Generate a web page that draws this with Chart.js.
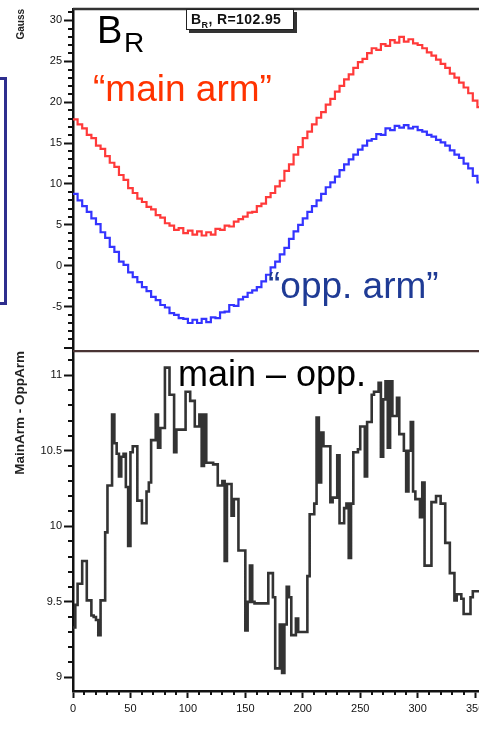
<!DOCTYPE html>
<html>
<head>
<meta charset="utf-8">
<script src="https://cdn.jsdelivr.net/npm/chart.js@4"></script>
<style>
html, body { margin: 0; padding: 0; background: #fff; overflow: hidden; width: 479px; height: 730px; }
#wrap { position: relative; width: 479px; height: 730px; overflow: hidden; }
canvas { position: absolute; left: 0; }
#topChart { top: 0; }
#bottomChart { top: 350px; }
.lbl { position: absolute; z-index: 5; font-family: 'Liberation Sans', Arial, sans-serif; line-height: 1; white-space: nowrap; }
#statbox { position: absolute; z-index: 5; left: 186px; top: 9px; width: 102px; height: 19px; padding-left: 4px;
  border: 1.5px solid #222; box-shadow: 3px 3px 0 #333; background: #fff;
  font: bold 14px 'Liberation Sans', Arial, sans-serif; letter-spacing: 0.4px; line-height: 19px; color: #111; white-space: nowrap; }
#statbox sub { font-size: 9px; line-height: 0; }
#sidebox { position: absolute; z-index: 5; left: -20px; top: 77px; width: 21px; height: 222px; border: 3px solid #2e2e8e; }
</style>
</head>
<body>
<div id="wrap">
  <canvas id="topChart" width="482" height="350"></canvas>
  <canvas id="bottomChart" width="482" height="380"></canvas>

  <div id="sidebox"></div>
  <div id="statbox">B<sub>R</sub>, R=102.95</div>
  <div class="lbl" style="left:97px; top:11px; font-size:38px; color:#000;">B</div>
  <div class="lbl" style="left:124px; top:29px; font-size:28px; color:#000;">R</div>
  <div class="lbl" style="left:93px; top:70px; font-size:37px; color:#ff3300;">“main arm”</div>
  <div class="lbl" style="left:268px; top:267px; font-size:37px; color:#1f3b95;">“opp. arm”</div>
  <div class="lbl" style="left:178px; top:356px; font-size:36px; color:#000;">main – opp.</div>
</div>

<script>
// Axis ticks
const xTicks = [0, 50, 100, 150, 200, 250, 300, 350];
const gaussTicks = [-5, 0, 5, 10, 15, 20, 25, 30];
const diffTicks = [9, 9.5, 10, 10.5, 11];

// Top panel: B_R per arm, bins of 4 units starting at 0
const topBinWidth = 4;
const mainArm = [
    17.9, 17.3, 16.8, 16.0, 15.6, 14.7, 14.3, 13.4, 12.6, 12.1,
    11.1, 10.5, 9.5, 8.9, 8.2, 7.8, 7.2, 6.9, 6.2, 5.9,
    5.2, 4.9, 4.4, 4.6, 4.0, 4.3, 3.8, 4.2, 3.7, 4.1,
    3.8, 4.5, 4.4, 4.9, 4.8, 5.4, 5.7, 6.0, 6.5, 6.6,
    7.3, 7.6, 8.4, 8.9, 9.7, 10.4, 11.6, 12.4, 13.6, 14.5,
    15.6, 16.4, 17.3, 18.1, 18.8, 19.7, 20.4, 21.3, 22.0, 22.8,
    23.4, 24.2, 24.9, 25.3, 26.0, 26.6, 26.4, 27.1, 26.9, 27.6,
    27.3, 28.0, 27.4, 27.7, 27.2, 27.0, 26.6, 26.1, 25.7, 25.2,
    24.7, 24.2, 23.5, 23.0, 22.4, 21.8, 21.1, 20.2, 19.4, 19.2
];
const oppArm = [
    8.8, 8.0, 7.3, 6.6, 5.8, 5.1, 4.1, 3.4, 2.3, 1.7,
    0.5, 0.1, -0.8, -1.4, -2.0, -2.6, -3.1, -3.8, -4.2, -4.8,
    -5.1, -5.8, -6.0, -6.4, -6.5, -7.0, -6.6, -7.0, -6.5, -6.9,
    -6.3, -6.4, -5.7, -5.6, -4.8, -4.9, -4.1, -3.8, -3.3, -3.0,
    -2.6, -1.9, -1.1, -0.2, 0.5, 1.4, 2.2, 3.3, 4.2, 5.0,
    5.8, 6.6, 7.3, 8.0, 8.8, 9.6, 10.2, 10.9, 11.7, 12.4,
    13.0, 13.6, 14.2, 14.7, 15.3, 15.5, 16.1, 16.0, 16.8, 16.6,
    17.1, 16.9, 17.2, 16.8, 17.0, 16.6, 16.4, 16.0, 15.8, 15.4,
    15.1, 14.7, 14.1, 13.6, 13.2, 12.5, 11.9, 11.0, 10.2, 9.8
];

// Bottom panel: MainArm - OppArm, bins of 2 units starting at 0
const diffBinWidth = 2;
const mainMinusOpp = [
    9.33, 9.48, 9.62, 9.62, 9.77, 9.77, 9.51, 9.51, 9.41, 9.40,
    9.38, 9.28, 9.51, 9.51, 9.96, 10.27, 10.27, 10.74, 10.55, 10.48,
    10.33, 10.46, 10.48, 10.26, 9.87, 10.49, 10.53, 10.53, 10.17, 10.17,
    10.02, 10.02, 10.23, 10.29, 10.57, 10.57, 10.74, 10.52, 10.65, 10.65,
    11.05, 11.05, 10.87, 10.87, 10.49, 10.64, 10.64, 10.64, 10.64, 10.89,
    10.89, 10.83, 10.83, 10.66, 10.66, 10.74, 10.40, 10.74, 10.42, 10.42,
    10.42, 10.41, 10.41, 10.27, 10.27, 10.30, 9.77, 10.28, 10.28, 10.07,
    10.18, 10.18, 9.84, 9.84, 9.84, 9.31, 9.50, 9.74, 9.50, 9.49,
    9.49, 9.49, 9.49, 9.49, 9.49, 9.69, 9.69, 9.53, 9.06, 9.06,
    9.35, 9.03, 9.35, 9.60, 9.53, 9.28, 9.28, 9.39, 9.30, 9.30,
    9.30, 9.30, 9.67, 10.08, 10.08, 10.15, 10.72, 10.29, 10.62, 10.53,
    10.53, 10.53, 10.16, 10.19, 10.19, 10.47, 10.02, 10.02, 10.12, 10.15,
    9.79, 10.15, 10.49, 10.49, 10.51, 10.66, 10.66, 10.33, 10.69, 10.69,
    10.87, 10.89, 10.89, 10.95, 10.46, 10.84, 10.96, 10.52, 10.96, 10.73,
    10.73, 10.85, 10.61, 10.61, 10.50, 10.23, 10.50, 10.69, 10.23, 10.18,
    10.18, 10.06, 10.29, 9.74, 9.74, 9.74, 10.16, 10.16, 10.20, 10.20,
    10.15, 10.15, 9.89, 9.89, 9.69, 9.69, 9.51, 9.55, 9.55, 9.52,
    9.42, 9.42, 9.42, 9.53, 9.57, 9.57, 9.57, 9.57
];

const toBins = (values, width) => values.map((v, i) => ({ x: i * width, y: v }));
const asTicks = list => scale => { scale.ticks = list.map(v => ({ value: v })); };
const noPad = scale => {
    scale.paddingTop = 0; scale.paddingBottom = 0;
    scale.paddingLeft = 0; scale.paddingRight = 0;
};

const tickFont = { family: "'Liberation Sans', Arial, sans-serif", size: 11 };

// Frame lines and minor ticks, drawn through the chart's scales
const frameMinor = {
    id: 'frameMinor',
    afterDraw(chart, args, opts) {
        const { ctx, chartArea: a, scales } = chart;
        ctx.save();
        ctx.strokeStyle = '#111';
        ctx.lineWidth = 2;
        ctx.beginPath();
        const y = scales.y;
        for (let k = Math.ceil(y.min / opts.yStep - 1e-6); k * opts.yStep <= y.max + 1e-9; k++) {
            if (k % opts.yEvery === 0 && k * opts.yStep >= opts.yMajorFrom) continue;
            const py = Math.round(y.getPixelForValue(k * opts.yStep));
            ctx.moveTo(a.left - (k % opts.yEvery === 0 ? 9 : 5), py);
            ctx.lineTo(a.left, py);
        }
        if (opts.xStep) {
            const x = scales.x;
            for (let k = 0; k * opts.xStep <= x.max; k++) {
                if (k % opts.xEvery === 0) continue;
                const px = Math.round(x.getPixelForValue(k * opts.xStep));
                ctx.moveTo(px, a.bottom);
                ctx.lineTo(px, a.bottom + 4);
            }
        }
        ctx.stroke();
        // top frame line
        ctx.strokeStyle = opts.topColor;
        ctx.lineWidth = 2.5;
        ctx.beginPath();
        ctx.moveTo(a.left, a.top);
        ctx.lineTo(a.right, a.top);
        ctx.stroke();
        ctx.restore();
    }
};

const yAxisBase = {
    grid: { drawOnChartArea: false, drawTicks: true, tickLength: 9, tickWidth: 2, tickColor: '#111' },
    border: { display: true, color: '#111', width: 2.5 },
    ticks: { font: tickFont, color: '#111', padding: 2, callback: v => String(v) },
    afterFit(scale) { scale.width = 73; noPad(scale); }
};

// Top chart: main arm and opposite arm
new Chart(document.getElementById('topChart').getContext('2d'), {
    type: 'line',
    data: {
        datasets: [{
            label: 'main arm',
            data: toBins(mainArm, topBinWidth),
            borderColor: '#ff3a3a',
            borderWidth: 2.2,
            stepped: 'before',
            pointRadius: 0,
        }, {
            label: 'opp. arm',
            data: toBins(oppArm, topBinWidth),
            borderColor: '#3434ff',
            borderWidth: 2.2,
            stepped: 'before',
            pointRadius: 0,
        }],
    },
    options: {
        responsive: false,
        animation: false,
        layout: { autoPadding: false, padding: { top: 9, left: 0, right: 0, bottom: 0 } },
        plugins: {
            legend: { display: false },
            tooltip: { enabled: false },
            frameMinor: { yStep: 1, yEvery: 5, yMajorFrom: -5, topColor: '#333' },
        },
        scales: {
            x: { type: 'linear', min: 0, max: 356, display: false },
            y: Object.assign({}, yAxisBase, {
                min: -10.3,
                max: 31.4,
                afterBuildTicks: asTicks(gaussTicks),
                title: {
                    display: true, text: 'Gauss', align: 'end', color: '#222',
                    font: { family: "'Liberation Sans', Arial, sans-serif", size: 10, weight: 'bold' },
                    padding: { top: 15, bottom: 0 },
                },
            }),
        },
    },
    plugins: [frameMinor],
});

// Bottom chart: difference
new Chart(document.getElementById('bottomChart').getContext('2d'), {
    type: 'line',
    data: {
        datasets: [{
            label: 'main - opp edge',
            data: toBins(mainMinusOpp, diffBinWidth),
            borderColor: '#333333',
            borderWidth: 2.6,
            stepped: 'before',
            pointRadius: 0,
        }, {
            label: 'main - opp',
            data: toBins(mainMinusOpp, diffBinWidth),
            borderColor: '#9a9a9a',
            borderWidth: 1.0,
            stepped: 'before',
            pointRadius: 0,
        }],
    },
    options: {
        responsive: false,
        animation: false,
        layout: { autoPadding: false, padding: { top: 1, left: 0, right: 0, bottom: 0 } },
        plugins: {
            legend: { display: false },
            tooltip: { enabled: false },
            frameMinor: { yStep: 0.1, yEvery: 5, yMajorFrom: 0, xStep: 10, xEvery: 5, topColor: '#4a3434' },
        },
        scales: {
            x: {
                type: 'linear', min: 0, max: 356,
                afterBuildTicks: asTicks(xTicks),
                grid: { drawOnChartArea: false, drawTicks: true, tickLength: 7, tickWidth: 2, tickColor: '#111' },
                border: { display: true, color: '#111', width: 2.5 },
                ticks: { font: tickFont, color: '#111', padding: 4, maxRotation: 0 },
                afterFit(scale) { scale.height = 39; noPad(scale); },
            },
            y: Object.assign({}, yAxisBase, {
                min: 8.91,
                max: 11.16,
                afterBuildTicks: asTicks(diffTicks),
                title: {
                    display: true, text: 'MainArm - OppArm', align: 'end', color: '#222',
                    font: { family: "'Liberation Sans', Arial, sans-serif", size: 13.5, weight: 'bold' },
                    padding: { top: 12, bottom: 0 },
                },
            }),
        },
    },
    plugins: [frameMinor],
});
</script>
</body>
</html>
